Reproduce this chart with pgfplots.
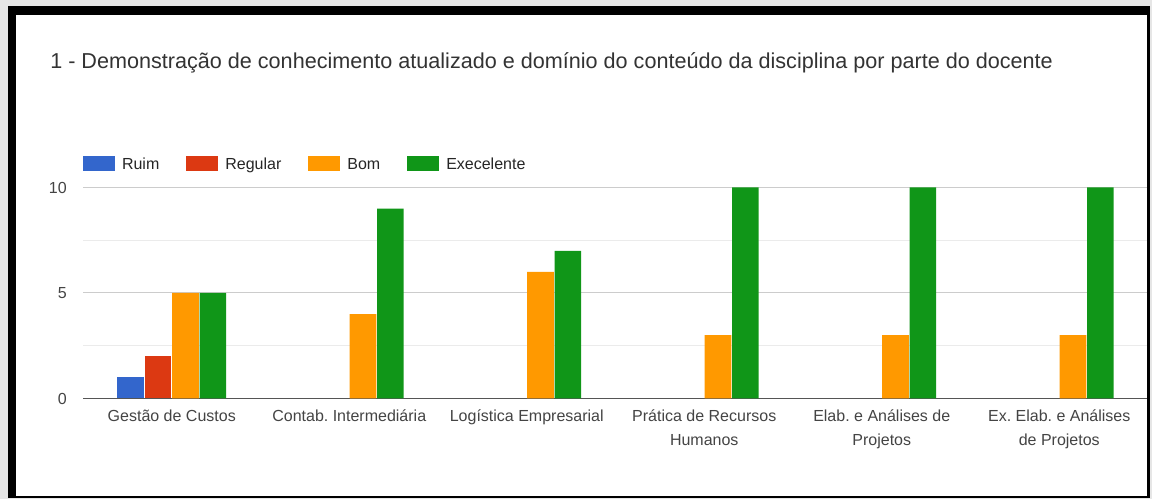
\documentclass[border=0pt]{standalone}
\usepackage{pgfplots}
\pgfplotsset{compat=1.18}
\usepackage{fontspec}
\setmainfont{Liberation Sans}
\definecolor{gRuim}{HTML}{3366CC}
\definecolor{gRegular}{HTML}{DC3912}
\definecolor{gBom}{HTML}{FF9900}
\definecolor{gExc}{HTML}{109618}
\definecolor{outgray}{HTML}{E6E6E6}
\definecolor{majgrid}{HTML}{CCCCCC}
\definecolor{mingrid}{HTML}{EBEBEB}
\definecolor{basecol}{HTML}{555555}
\definecolor{ticktext}{HTML}{444444}
\definecolor{titletext}{HTML}{333333}
\begin{document}
\frenchspacing
\begin{tikzpicture}
\useasboundingbox (0,0) rectangle (864pt,374.25pt);
% background and frame
\fill[outgray] (0,0) rectangle (864pt,374.25pt);
\fill[black] ({8*0.75pt},{(499-498.5)*0.75pt}) rectangle ({1150*0.75pt},{(499-6)*0.75pt});
\fill[white] ({16*0.75pt},{(499-496.5)*0.75pt}) rectangle ({1147*0.75pt},{(499-15)*0.75pt});
% title
\node[anchor=base west, inner sep=0pt, text=titletext, font=\fontsize{16.2}{19}\selectfont]
  at ({50*0.75pt},{(499-68.3)*0.75pt})
  {1 - Demonstração de conhecimento atualizado e domínio do conteúdo da disciplina por parte do docente};
\begin{axis}[
  at={(62.25pt,75.375pt)}, anchor=south west,
  scale only axis,
  width=798.75pt, height=158.25pt,
  xmin=-0.5, xmax=5.5,
  ymin=0, ymax=10,
  ybar, bar width=19.9pt,
  axis line style={draw=none},
  major tick length=0pt, minor tick length=0pt,
  xtick={0,1,2,3,4,5},
  xticklabels={\strut Gestão de Custos, \strut Contab. Intermediária, \strut Logística Empresarial,
    {\strut Prática de Recursos\\Humanos}, {\strut Elab. e Análises de\\Projetos}, {\strut Ex. Elab. e Análises\\de Projetos}},
  xticklabel style={anchor=north, align=center, inner sep=0pt, yshift=-4.3pt,
    font=\fontsize{12}{18}\selectfont, text=ticktext},
  ytick={0,5,10},
  minor ytick={2.5,7.5},
  yticklabel style={anchor=east, inner sep=0pt, xshift=-12pt,
    font=\fontsize{12}{14}\selectfont, text=ticktext},
  /pgf/number format/assume math mode=true,
  ymajorgrids, yminorgrids,
  major grid style={color=majgrid, line width=0.75pt},
  minor grid style={color=mingrid, line width=0.75pt},
  extra y ticks={0}, extra y tick labels={},
  extra y tick style={major grid style={color=basecol, line width=0.9pt}},
  legend columns=4,
  legend style={draw=none, fill=none, inner sep=0pt, outer sep=0pt,
    at={(axis description cs:0,1)}, anchor=west, xshift=0pt, yshift=17.6pt,
    font=\fontsize{12}{14}\selectfont, text=black!85,
    nodes={inner sep=0pt},
    /tikz/every odd column/.append style={column sep=5.25pt},
    /tikz/every even column/.append style={column sep=20.25pt}},
  legend image code/.code={\fill[#1] (0pt,-4.6pt) rectangle (24pt,6.4pt);},
]
\addplot[fill=gRuim, draw=none, bar shift=-30.9pt] coordinates {(0,1)};
\addplot[fill=gRegular, draw=none, bar shift=-10.3pt] coordinates {(0,2)};
\addplot[fill=gBom, draw=none, bar shift=10.3pt] coordinates {(0,5) (1,4) (2,6) (3,3) (4,3) (5,3)};
\addplot[fill=gExc, draw=none, bar shift=30.9pt] coordinates {(0,5) (1,9) (2,7) (3,10) (4,10) (5,10)};
\legend{Ruim, Regular, Bom, Execelente}
\end{axis}
% right border drawn over the plot's right end
\fill[black] ({1147*0.75pt},{(499-498.5)*0.75pt}) rectangle ({1150*0.75pt},{(499-6)*0.75pt});
\fill[outgray] ({1150*0.75pt},0) rectangle (864pt,374.25pt);
\end{tikzpicture}
\end{document}
